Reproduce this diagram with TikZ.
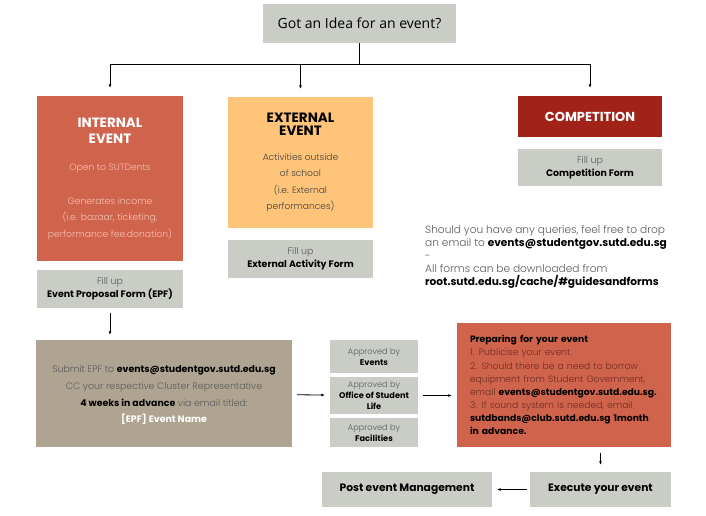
\documentclass[tikz,border=0pt]{standalone}
\usepackage{fontspec}
\setmainfont{Poppins}
\newfontfamily\titlefont{Open Sans}
\newfontfamily\lightfont{Poppins Light}
\usetikzlibrary{arrows.meta,positioning}

\definecolor{boxgray}{HTML}{C9CDC6}
\definecolor{intred}{HTML}{D0634C}
\definecolor{extorange}{HTML}{FEC479}
\definecolor{compred}{HTML}{A12318}
\definecolor{submitbrown}{HTML}{AFA491}
\definecolor{softpink}{HTML}{F6C2B2}
\definecolor{darktext}{HTML}{5A5A5A}
\definecolor{preptext}{HTML}{6E2C22}

\newcommand{\boldpart}[2][black]{{\normalfont\bfseries\color{#1}#2}}
\newcommand{\headline}[2][white]{{\normalfont\bfseries\color{#1}\fontsize{13.5}{15}\selectfont #2}}

\tikzset{
  box/.style = {inner sep=0pt, align=center},
  graybox/.style = {box, fill=boxgray, font=\fontsize{9.4}{13}\selectfont},
  okbox/.style = {box, fill=boxgray, minimum width=88, font=\fontsize{8.2}{11}\selectfont},
  link/.style = {-{Latex[length=3.5pt,width=3pt]}, line width=0.8pt},
}

\begin{document}
\begin{tikzpicture}[x=1pt, y=-1pt]
  \useasboundingbox (0,0) rectangle (706,515);

  % top of the tree
  \node[graybox, minimum width=193, minimum height=39, font=\titlefont\fontsize{14}{16}\selectfont]
       (idea) at (359.5,23.5) {Got an Idea for an event?};

  % three kinds of events
  \node[box, fill=intred, minimum width=146, minimum height=165, text=softpink,
        font=\lightfont\fontsize{9.2}{16.5}\selectfont] (internal) at (110,178.5)
       {\headline{INTERNAL}\\\headline{EVENT}\\[10pt]
        Open to SUTDents\\[17.5pt]
        Generates income\\(i.e. bazaar, ticketing,\\performance fee.donation)};
  \node[box, fill=extorange, minimum width=145, minimum height=131, text=black!75,
        font=\lightfont\fontsize{9.1}{16.5}\selectfont] (external) at (300.5,162.5)
       {\headline[black]{EXTERNAL}\\[-3.5pt]\headline[black]{EVENT}\\[8pt]
        Activities outside\\of school\\(i.e. External\\performances)};
  \node[box, fill=compred, minimum width=144, minimum height=41, text=white,
        font=\bfseries\fontsize{13}{15}\selectfont] (comp) at (590,116.5) {COMPETITION};

  % forms to fill up
  \node[graybox, minimum width=146, minimum height=38] (epf) at (110,289)
       {{\lightfont\color{darktext}Fill up}\\\boldpart{Event Proposal Form (EPF)}};
  \node[graybox, minimum width=145, minimum height=38] (extform) at (300.5,259)
       {{\lightfont\color{darktext}Fill up}\\\boldpart{External Activity Form}};
  \node[graybox, minimum width=144, minimum height=37] (compform) at (590,167.5)
       {{\lightfont\color{darktext}Fill up}\\\boldpart{Competition Form}};

  % notes
  \node[box, anchor=north west, align=left, text=darktext,
        font=\lightfont\fontsize{10.6}{13}\selectfont] (info) at (425,225)
       {Should you have any queries, feel free to drop\\
        an email to \boldpart{events@studentgov.sutd.edu.sg}\\
        -\\
        All forms can be downloaded from\\
        \boldpart{root.sutd.edu.sg/cache/\#guidesandforms}};

  % submission and approval
  \node[box, fill=submitbrown, minimum width=256, minimum height=107, text=darktext,
        font=\lightfont\fontsize{9.4}{16.7}\selectfont] (submit) at (164,393.5)
       {\\[-6pt]Submit EPF to \boldpart{events@studentgov.sutd.edu.sg}\\
        CC your respective Cluster Representative\\
        \boldpart{4 weeks in advance} via email titled:\\
        \boldpart[white]{[EPF] Event Name}};
  \node[okbox, minimum height=33] (okevents) at (374,356.5)
       {{\lightfont\color{darktext}Approved by}\\\boldpart{Events}};
  \node[okbox, minimum height=37] (okosl) at (374,395.5)
       {{\lightfont\color{darktext}Approved by}\\\boldpart{Office of Student}\\\boldpart{Life}};
  \node[okbox, minimum height=29] (okfac) at (374,432.5)
       {{\lightfont\color{darktext}Approved by}\\\boldpart{Facilities}};

  % preparation
  \node[box, fill=intred, minimum width=214, minimum height=124, text width=188, align=left,
        text=preptext, font=\lightfont\fontsize{9.2}{13.1}\selectfont] (prep) at (564,385)
       {\boldpart{Preparing for your event}\\
        1. Publicise your event.\\
        2. Should there be a need to borrow\\
        equipment from Student Government,\\
        email \boldpart{events@studentgov.sutd.edu.sg.}\\
        3. If sound system is needed, email\\
        \boldpart{sutdbands@club.sutd.edu.sg 1month}\\
        \boldpart{in advance.}};

  % last steps
  \node[graybox, minimum width=141, minimum height=35, font=\bfseries\fontsize{10.7}{12}\selectfont]
       (execute) at (600.5,489.5) {Execute your event};
  \node[graybox, minimum width=170, minimum height=35, font=\bfseries\fontsize{10.7}{12}\selectfont]
       (post) at (407,489.5) {Post event Management};

  % connectors
  \coordinate (fork) at (359.5,64);
  \draw[line width=0.8pt] (idea) -- (fork);
  \draw[line width=0.8pt] (internal |- fork) -- (comp |- fork);
  \foreach \kind in {internal, external, comp}
    \draw[link, shorten >=8pt] (\kind |- fork) -- (\kind.north);
  \draw[link, shorten <=5pt, shorten >=5pt] (epf.south) -- (epf.south |- submit.north);
  \draw[link, shorten <=5pt, shorten >=5pt] (submit) -- (okosl);
  \draw[link, shorten <=5pt, shorten >=5pt] (okosl) -- (prep.west |- okosl);
  \draw[link, shorten <=6pt, shorten >=7pt] (prep.south -| execute) -- (execute);
  \draw[link, shorten <=3pt, shorten >=5pt] (execute) -- (post);
\end{tikzpicture}
\end{document}
